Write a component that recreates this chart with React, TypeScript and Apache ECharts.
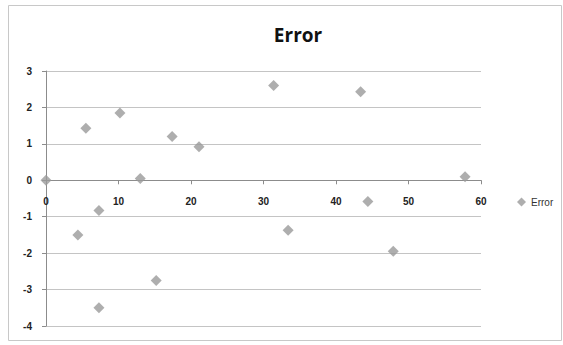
import React, { useEffect, useRef } from "react";
import * as echarts from "echarts";

const xValues = [0, 5.5, 10.2, 13, 17.4, 21.1, 31.4, 43.4, 44.4, 57.8, 4.4, 7.3, 7.3, 15.2, 33.4, 47.9];
const yValues = [0, 1.43, 1.85, 0.05, 1.2, 0.92, 2.6, 2.43, -0.58, 0.1, -1.5, -0.83, -3.5, -2.75, -1.37, -1.95];
const seriesName = "Error";
const titleText = "Error";
const yMin = -4;
const yMax = 3;

export default function App() {
  const ref = useRef<HTMLDivElement>(null);
  useEffect(() => {
    document.body.style.margin = "0";
    const chart = echarts.init(ref.current!, undefined, { renderer: "svg" });
    const data = xValues.map((x, i) => [x, yValues[i]]);
    const gridTop = 71;
    const gridBottom = 19;
    const plotH = 345 - gridTop - gridBottom;
    const zeroOffset = -plotH * (0 - yMin) / (yMax - yMin);
    chart.setOption({
      animation: false,
      backgroundColor: "#fff",
      title: {
        text: titleText,
        left: 293,
        textAlign: "center",
        top: 20,
        textStyle: { fontFamily: "Open Sans", fontWeight: "bold", fontSize: 19, color: "#111" },
      },
      graphic: [
        {
          type: "rect",
          shape: { x: 8.5, y: 5.5, width: 553, height: 335 },
          style: { fill: "none", stroke: "#c8c8c8", lineWidth: 1 },
          silent: true,
        },
      ],
      legend: {
        data: [{ name: seriesName, icon: "diamond" }],
        left: 512,
        top: 192,
        itemWidth: 9,
        itemHeight: 9,
        itemGap: 4,
        textStyle: { fontFamily: "Liberation Sans", fontSize: 10, color: "#333" },
      },
      grid: { left: 46, right: 82, top: gridTop, bottom: gridBottom },
      xAxis: {
        type: "value",
        min: 0,
        max: 60,
        interval: 10,
        offset: zeroOffset,
        axisLine: { show: true, onZero: false, lineStyle: { color: "#8c8c8c" } },
        axisTick: { show: true, length: 4, inside: false, lineStyle: { color: "#8c8c8c" } },
        axisLabel: { fontFamily: "Liberation Sans", fontWeight: "bold", fontSize: 10, color: "#222", margin: 16 },
        splitLine: { show: false },
      },
      yAxis: {
        type: "value",
        min: yMin,
        max: yMax,
        interval: 1,
        axisLine: { show: true, onZero: false, lineStyle: { color: "#8c8c8c" } },
        axisTick: { show: true, length: 4, lineStyle: { color: "#8c8c8c" } },
        axisLabel: { fontFamily: "Liberation Sans", fontWeight: "bold", fontSize: 10, color: "#222", margin: 14 },
        splitLine: { show: true, lineStyle: { color: "#c4c4c4", width: 1 } },
      },
      series: [
        {
          name: seriesName,
          type: "scatter",
          symbol: "diamond",
          symbolSize: 11,
          itemStyle: { color: "#9a9a9a" },
          data,
        },
      ],
    });
    return () => chart.dispose();
  }, []);
  return <div ref={ref} style={{ width: 563, height: 345, position: "absolute", left: 0, top: 0 }} />;
}
